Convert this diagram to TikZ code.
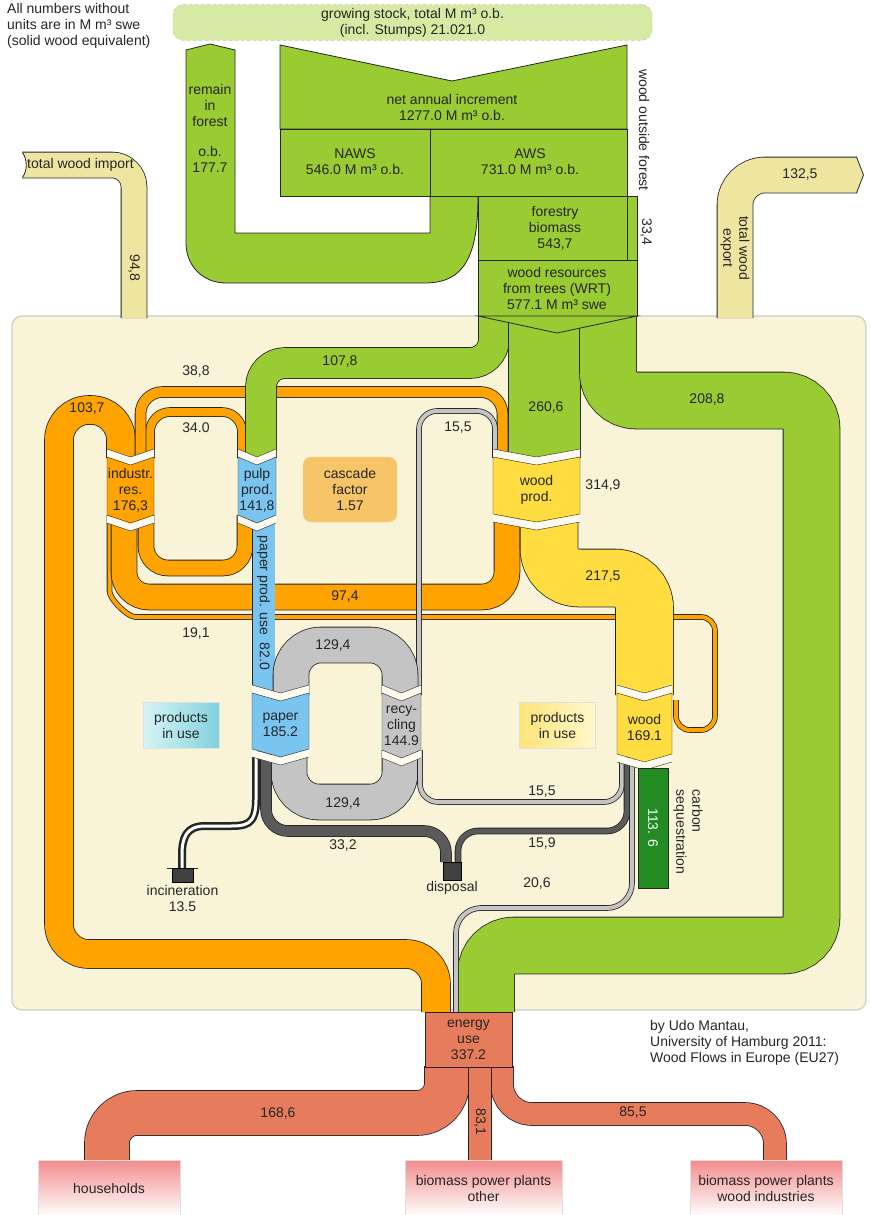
\documentclass[tikz,border=0pt]{standalone}
\usepackage{fontspec}
\setmainfont{Liberation Sans}
\usetikzlibrary{positioning}

\definecolor{fgreen}{RGB}{153,204,51}
\definecolor{fseq}{RGB}{34,139,34}
\definecolor{forange}{RGB}{255,163,0}
\definecolor{fyellow}{RGB}{255,221,64}
\definecolor{fblue}{RGB}{122,196,240}
\definecolor{fgray}{RGB}{196,196,196}
\definecolor{fdark}{RGB}{90,90,90}
\definecolor{fsalmon}{RGB}{230,124,92}
\definecolor{ftan}{RGB}{238,229,160}
\definecolor{fcream}{RGB}{249,244,216}
\definecolor{fstock}{RGB}{214,234,164}
\definecolor{fcasc}{RGB}{247,196,104}
\definecolor{fpink}{RGB}{242,140,140}
\definecolor{fcyanA}{RGB}{214,244,244}
\definecolor{fcyanB}{RGB}{130,210,220}
\definecolor{fyelA}{RGB}{255,228,120}
\definecolor{fyelB}{RGB}{255,248,205}

\newcommand{\flowband}[4][20]{%
  \draw[black!85, line width={(#3+1.6)*1pt}, rounded corners=#1pt] #4;
  \draw[#2, line width=#3pt, rounded corners=#1pt] #4;}

\newcommand{\procbox}[7]{%
  \fill[fcream!40!white] ({#2},{#3-8}) -- ({(#2+#4)/2},{#3}) -- ({#4},{#3-8}) -- ({#4},{#3}) -- ({(#2+#4)/2},{#3+8}) -- ({#2},{#3}) -- cycle;
  \draw[black!85] ({#2},{#3-8}) -- ({(#2+#4)/2},{#3}) -- ({#4},{#3-8});
  \filldraw[fill=#6, draw=black!85] ({#2},{#3}) -- ({(#2+#4)/2},{#3+8}) -- ({#4},{#3}) -- ({#4},{#5}) -- ({(#2+#4)/2},{#5+8}) -- ({#2},{#5}) -- cycle;
  \fill[fcream!40!white] ({#2},{#5+0.6}) -- ({(#2+#4)/2},{#5+8.6}) -- ({#4},{#5+0.6}) -- ({#4},{#5+8}) -- ({(#2+#4)/2},{#5+16}) -- ({#2},{#5+8}) -- cycle;
  \draw[black!85] ({#2},{#5+8}) -- ({(#2+#4)/2},{#5+16}) -- ({#4},{#5+8});
  \node[boxtext] (#1) at ({(#2+#4)/2},{(#3+#5)/2+4}) {#7};}

\begin{document}
\begin{tikzpicture}[x=1pt, y=-1pt, font=\fontsize{14}{16}\selectfont, text=black!85,
  lbl/.style={inner sep=1pt, align=center},
  boxtext/.style={inner sep=0pt, align=center},
  frame/.style={draw=black!85, line width=0.8pt},
  piu/.style={draw=black!12, align=center, minimum width=76pt, minimum height=46pt},
  sink/.style={draw=black!12, top color=fpink, bottom color=white, align=center, minimum height=56pt}]

\useasboundingbox (0,0) rectangle (870,1215);

\draw[fill=fcream, draw=black!20, line width=1.2pt, rounded corners=10pt] (12,316) rectangle (866,1010);

\node[draw=fstock!60!black!50, dashed, fill=fstock, rounded corners=10pt, minimum width=479pt, minimum height=35pt, align=center] (stock) at (412.5,22.5) {growing stock, total M m³ o.b.\\(incl. Stumps) 21.021.0};
\node[anchor=north west, align=left, inner sep=0pt] (note) at (7,3) {All numbers without\\units are in M m³ swe\\(solid wood equivalent)};

\filldraw[fill=fgreen, frame] (186,50) -- (210,44) -- (235,50) -- (235,233) -- (430,233) -- (430,196) -- (478,196) .. controls (478,255) and (465,283) .. (425,283) -- (226,283) .. controls (203,283) and (186,266) .. (186,243) -- cycle;
\node[boxtext] (remain) at (210,128) {remain\\in\\forest\\[14pt]o.b.\\177.7};

\filldraw[fill=fgreen, frame] (280,45) -- (452,81) -- (627,45) -- (627,129) -- (280,129) -- cycle;
\node[boxtext] (increment) at (452,107) {net annual increment\\1277.0 M m³ o.b.};
\filldraw[fill=fgreen, frame] (280,129) rectangle (430,196);
\node[boxtext] (naws) at (355,162) {NAWS\\546.0 M m³ o.b.};
\filldraw[fill=fgreen, frame] (430,129) rectangle (627,196);
\node[boxtext] (aws) at (530,162) {AWS\\731.0 M m³ o.b.};
\filldraw[fill=fgreen, frame] (478,196) rectangle (627,260);
\filldraw[fill=fgreen, frame] (627,196) rectangle (637,260);
\node[boxtext] (biomass) at (555,228) {forestry\\biomass\\543,7};
\filldraw[fill=fgreen, frame] (478,260) rectangle (637,316);
\node[boxtext] (wrt) at (557,288) {wood resources\\from trees (WRT)\\577.1 M m³ swe};
\node[lbl, rotate=-90] (outside) at (644,130) {wood outside forest};
\node[lbl, rotate=-90] (v334) at (646,232) {33,4};

\flowband[22]{ftan}{25}{(22,165) -- (134,165) -- (134,318)}
\fill[white] (21,152) -- (22.5,152.5) .. controls (27.5,160) and (27.5,170) .. (22.5,177.5) -- (21,178) -- cycle;
\draw[frame] (22.5,152.5) .. controls (27.5,160) and (27.5,170) .. (22.5,177.5);
\flowband[30]{ftan}{35}{(735,318) -- (735,175) -- (857,175)}
\fill[ftan] (856,157.5) -- (863,175) -- (856,192.5) -- cycle;
\draw[frame] (856.5,157) -- (863.5,175) -- (856.5,193);
\node[lbl, anchor=west] (import) at (26,165) {total wood import};
\node[lbl, rotate=-90] (v948) at (134,268) {94,8};
\node[lbl] (v1325) at (800,175) {132,5};
\node[lbl, rotate=-90] (export) at (735,248) {total wood\\export};

\flowband[14]{forange}{4}{(109.5,515) -- (109.5,577) .. controls (109.5,599) and (127.5,617) .. (149.5,617) -- (715,617) -- (715,730) -- (676,730) -- (676,700)}
\flowband[30]{forange}{28}{(121,458) -- (121,410) -- (59,410) -- (59,954) -- (436,954) -- (436,1012)}
\flowband[25]{forange}{25}{(124,515) -- (124,597) -- (507,597) -- (507,515)}
\flowband[22]{forange}{15}{(146,515) -- (146,568) -- (245,568) -- (245,515)}
\flowband[20]{forange}{8}{(150,458) -- (150,412) -- (242,412) -- (242,458)}
\flowband[22]{forange}{10}{(502.5,458) -- (502.5,392) -- (140.5,392) -- (140.5,458)}
\flowband[18]{fgray}{4}{(419,695) -- (419,411) -- (495,411) -- (495,458)}
\flowband[24]{fgreen}{30}{(494,316) -- (494,363) -- (261,363) -- (261,458)}
\flowband{fgreen}{71}{(544.5,316) -- (544.5,458)}
\flowband[28]{fgreen}{56}{(608,316) -- (608,400.5) -- (811.5,400.5) -- (811.5,945.5) -- (486,945.5) -- (486,1012)}
\filldraw[fill=fgreen, frame] (478,316) -- (557,333) -- (637,316) -- cycle;
\flowband{fblue}{22}{(263.5,515) -- (263.5,695)}
\flowband[30]{fyellow}{57}{(549,515) -- (549,578) -- (644.5,578) -- (644.5,695)}
\flowband[30]{fgray}{35}{(291,695) -- (291,645) -- (400,645) -- (400,695)}
\flowband[30]{fgray}{35}{(289,750) -- (289,802) -- (400,802) -- (400,750)}
\flowband[18]{fgray}{4}{(420,750) -- (420,802) -- (622,802) -- (622,757)}
\flowband[20]{fdark}{5}{(627,757) -- (627,831) -- (458,831) -- (458,862)}
\flowband[22]{fdark}{10}{(266,750) -- (266,831) -- (446,831) -- (446,862)}
\flowband[25]{fgray}{4}{(632,757) -- (632,908) -- (456,908) -- (456,1012)}
\draw[black!85, line width=8pt] (256,750) -- (256,800) .. controls (256,826) and (245,826) .. (228,826) -- (205,826) .. controls (186,826) and (182,838) .. (182,855) -- (182,869);
\draw[white, line width=3pt] (256,750) -- (256,800) .. controls (256,826) and (245,826) .. (228,826) -- (205,826) .. controls (186,826) and (182,838) .. (182,855) -- (182,869);

\procbox{indres}{107}{457}{154}{515}{forange}{industr.\\res.\\176,3}
\procbox{pulp}{238}{457}{276}{515}{fblue}{pulp\\prod.\\141,8}
\procbox{woodprod}{493}{457}{580}{514}{fyellow}{wood\\prod.}
\procbox{paper}{252}{693}{309}{749}{fblue}{paper\\185.2}
\procbox{recycling}{382}{693}{421}{750}{fgray}{recy-\\cling\\144.9}
\procbox{wood}{617}{693}{672}{754}{fyellow}{wood\\169.1}

\node[lbl, rotate=-90] (paperuse) at (263.5,603) {paper prod. use\ \ 82.0};
\node[draw=orange!35, fill=fcasc, rounded corners=8pt, minimum width=94pt, minimum height=65pt, align=center] (cascade) at (350,489.5) {cascade\\factor\\1.57};
\node[piu, left color=fcyanA, right color=fcyanB] (piupaper) at (181,725) {products\\in use};
\node[piu, left color=fyelA, right color=fyelB] (piuwood) at (557.5,725) {products\\in use};

\draw[black!85, line width=1pt] (167,868) -- (198,868);
\node[draw=black, fill=black!75, minimum width=21pt, minimum height=14pt, inner sep=0pt] (incin) at (182.5,875) {};
\node[lbl, below=2pt of incin] (incintext) {incineration\\13.5};
\node[draw=black, fill=black!75, minimum width=18pt, minimum height=18pt, inner sep=0pt] (disp) at (452,871) {};
\node[lbl, below=0pt of disp] (disptext) {disposal};

\node[draw=black!85, fill=fseq, minimum width=30pt, minimum height=120pt, inner sep=0pt] (sequest) at (653,828) {};
\node[rotate=-90, text=white, inner sep=0pt] (v1136) at (sequest) {113. 6};
\node[lbl, rotate=-90, align=left] (carbon) at (688,832) {carbon\\sequestration};

\node[lbl] (l388) at (196,372) {38,8};
\node[lbl] (l1037) at (87,409) {103,7};
\node[lbl] (l340) at (196,428) {34.0};
\node[lbl] (l1078) at (340,362) {107,8};
\node[lbl] (l155a) at (458,428) {15,5};
\node[lbl] (l2606) at (546,408) {260,6};
\node[lbl] (l2088) at (707,400) {208,8};
\node[lbl] (l3149) at (603,486) {314,9};
\node[lbl] (l974) at (345,597) {97,4};
\node[lbl] (l191) at (196,633) {19,1};
\node[lbl] (l2175) at (603,577) {217,5};
\node[lbl] (l1294a) at (333,646) {129,4};
\node[lbl] (l1294b) at (343,803) {129,4};
\node[lbl] (l155b) at (542,792) {15,5};
\node[lbl] (l332) at (343,845) {33,2};
\node[lbl] (l159) at (542,843) {15,9};
\node[lbl] (l206) at (537,883) {20,6};

\flowband[30]{fsalmon}{44}{(447,1066) -- (447,1113) -- (107,1113) -- (107,1161)}
\flowband[30]{fsalmon}{22}{(502,1066) -- (502,1114) -- (775,1114) -- (775,1161)}
\flowband{fsalmon}{22}{(480,1066) -- (480,1161)}
\filldraw[fill=fsalmon, frame] (425,1012) rectangle (512,1067);
\node[boxtext] (energy) at (468.5,1040) {energy\\use\\337.2};
\node[lbl, rotate=-90] (l831) at (480,1122) {83,1};
\node[lbl] (l1686) at (278,1113) {168,6};
\node[lbl] (l855) at (633,1112) {85,5};

\node[sink, minimum width=142pt] (households) at (109,1188) {households};
\node[sink, minimum width=157pt] (bppother) at (483.5,1188) {biomass power plants\\other};
\node[sink, minimum width=152pt] (bppwood) at (766,1188) {biomass power plants\\wood industries};

\node[anchor=north west, align=left, inner sep=0pt] (credit) at (650,1020) {by Udo Mantau,\\University of Hamburg 2011:\\Wood Flows in Europe (EU27)};
\end{tikzpicture}
\end{document}
